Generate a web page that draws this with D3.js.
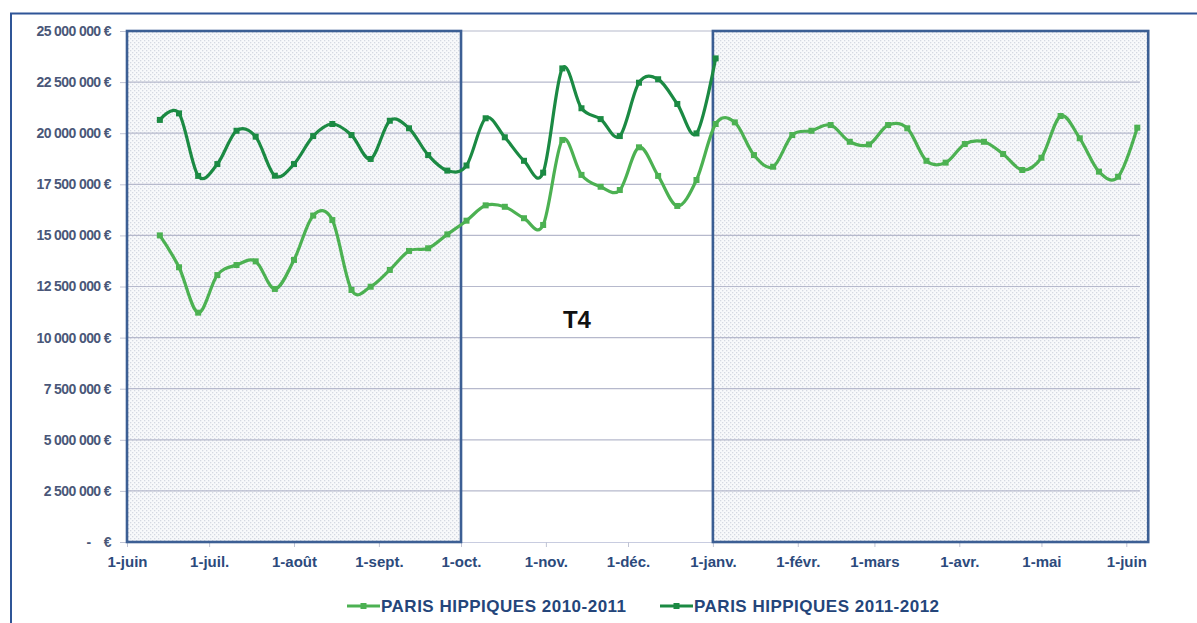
<!DOCTYPE html>
<html><head><meta charset="utf-8">
<script src="https://cdn.jsdelivr.net/npm/d3@7"></script>
<style>body{margin:0;background:#fff;font-family:"Liberation Sans",Arial,sans-serif}</style>
</head><body><svg id="c" width="1197" height="623"></svg>
<script>
const startDate = "2010-06-13"; // first weekly point
const series1Name = "PARIS HIPPIQUES 2010-2011";
const series2Name = "PARIS HIPPIQUES 2011-2012";
const values2010 = [15.0,13.44,11.22,13.06,13.55,13.73,12.38,13.8,15.97,15.75,12.33,12.49,13.31,14.24,14.37,15.05,15.72,
  16.47,16.4,15.84,15.51,19.67,17.96,17.38,17.22,19.31,17.91,16.44,17.71,
  20.45,20.53,18.93,18.36,19.91,20.12,20.4,19.58,19.45,20.4,20.24,18.65,18.56,19.47,19.58,18.98,18.2,18.8,20.84,19.75,18.12,17.87,20.27];
const values2011 = [20.65,20.97,17.91,18.49,20.12,19.83,17.92,18.49,19.86,20.45,19.91,18.74,20.61,20.24,18.93,18.17,18.42,
  20.73,19.8,18.65,18.07,23.17,21.22,20.69,19.86,22.47,22.64,21.43,19.99,23.66];
const yTicks = [0,2.5,5,7.5,10,12.5,15,17.5,20,22.5,25];
const yTickLabels = ["-\u00a0\u00a0\u00a0\u00a0€","2 500 000 €","5 000 000 €","7 500 000 €","10 000 000 €","12 500 000 €","15 000 000 €","17 500 000 €","20 000 000 €","22 500 000 €","25 000 000 €"];
const monthTicks = ["2010-06-01","2010-07-01","2010-08-01","2010-09-01","2010-10-01","2010-11-01","2010-12-01","2011-01-01","2011-02-01","2011-03-01","2011-04-01","2011-05-01","2011-06-01"];
const monthLabels = ["1-juin","1-juil.","1-août","1-sept.","1-oct.","1-nov.","1-déc.","1-janv.","1-févr.","1-mars","1-avr.","1-mai","1-juin"];
const shadedPeriods = [["2010-06-01","2010-10-01"],["2011-01-01","2011-06-09"]];
const quarterLabel = "T4";

const parse = d3.utcParse("%Y-%m-%d");
const t0 = parse(startDate);
const mk = vals => vals.map((v,i)=>({date:d3.utcDay.offset(t0,7*i), v}));
const d1 = mk(values2010), d2 = mk(values2011);

const svg = d3.select("#c");
const L=127, R=1140, T=31, B=542;
const x = d3.scaleUtc().domain([parse("2010-06-01"), parse("2011-06-06")]).range([L,R]);
const y = d3.scaleLinear().domain([0,25]).range([B,T]);

// pattern
const defs = svg.append("defs");
const pat = defs.append("pattern").attr("id","dots").attr("width",4).attr("height",4).attr("patternUnits","userSpaceOnUse");
pat.append("rect").attr("width",4).attr("height",4).attr("fill","#f8f9fb");
pat.append("rect").attr("x",0).attr("y",0).attr("width",1.3).attr("height",1.3).attr("fill","#d5d9e2");
pat.append("rect").attr("x",2).attr("y",2).attr("width",1.3).attr("height",1.3).attr("fill","#d5d9e2");

// outer frame
svg.append("path").attr("d","M11,623 V13.5 H1197").attr("fill","none").attr("stroke","#2f5597").attr("stroke-width",2);

// shaded boxes (fill)
svg.selectAll("rect.sh").data(shadedPeriods).join("rect").attr("class","sh")
  .attr("x",d=>x(parse(d[0]))).attr("y",T).attr("width",d=>x(parse(d[1]))-x(parse(d[0]))).attr("height",B-T)
  .attr("fill","url(#dots)");

// gridlines
svg.append("g").selectAll("line").data(yTicks.slice(1)).join("line")
  .attr("x1",L).attr("x2",R).attr("y1",d=>y(d)).attr("y2",d=>y(d)).attr("stroke","#b6b9cc").attr("stroke-width",1.2);

// y axis
const yAxis = d3.axisLeft(y).tickValues(yTicks).tickSize(7).tickFormat((d,i)=>yTickLabels[i]);
const gy = svg.append("g").attr("transform",`translate(${L},0)`).call(yAxis);
gy.select(".domain").remove();
gy.selectAll(".tick line").attr("stroke","#c0c4d4");
gy.selectAll(".tick text").attr("x",-16).attr("fill","#4a5778").style("font-size","14px").style("font-weight","bold").style("font-family","'Liberation Sans',Arial").style("letter-spacing","-0.6px");

// x axis
const xAxis = d3.axisBottom(x).tickValues(monthTicks.map(parse)).tickSize(5).tickFormat((d,i)=>monthLabels[i]);
const gx = svg.append("g").attr("transform",`translate(0,${B})`).call(xAxis);
gx.select(".domain").attr("stroke","#c8cce0").attr("d",`M${L},0.5H${R}`);
gx.selectAll(".tick line").attr("stroke","#c0c4d4");
gx.selectAll(".tick text").attr("y",14).attr("fill","#2c4a7c").style("font-size","15px").style("font-weight","bold").style("font-family","'Liberation Sans',Arial");

// shaded box borders
svg.selectAll("rect.shb").data(shadedPeriods).join("rect").attr("class","shb")
  .attr("x",d=>x(parse(d[0]))).attr("y",T).attr("width",d=>x(parse(d[1]))-x(parse(d[0]))).attr("height",B-T)
  .attr("fill","none").attr("stroke","#3c5f94").attr("stroke-width",2.6);

// T4 label
svg.append("text").attr("x",(x(parse(shadedPeriods[0][1]))+x(parse(shadedPeriods[1][0])))/2 -10).attr("y",y(10.45))
  .attr("text-anchor","middle").style("font-size","24px").style("font-weight","bold").attr("fill","#111").text(quarterLabel);

// lines
const line = d3.line().x(d=>x(d.date)).y(d=>y(d.v)).curve(d3.curveCardinal.tension(0));
const cols = ["#4cb152","#1b8a43"];
[[d1,cols[0]],[d2,cols[1]]].forEach(([data,c])=>{
  svg.append("path").datum(data).attr("d",line).attr("fill","none").attr("stroke",c).attr("stroke-width",3.2).attr("stroke-linejoin","round");
  svg.append("g").selectAll("rect").data(data).join("rect")
    .attr("x",d=>x(d.date)-3).attr("y",d=>y(d.v)-3).attr("width",6).attr("height",6).attr("fill",c);
});

// legend
const leg = [[series1Name,cols[0],347],[series2Name,cols[1],660]];
leg.forEach(([name,c,lx])=>{
  const g = svg.append("g").attr("transform",`translate(${lx},606)`);
  g.append("line").attr("x1",0).attr("x2",33).attr("y1",0).attr("y2",0).attr("stroke",c).attr("stroke-width",3);
  g.append("rect").attr("x",13.5).attr("y",-3).attr("width",6).attr("height",6).attr("fill",c);
  g.append("text").attr("x",34).attr("y",6).attr("fill","#24457a").style("font-size","17px").style("letter-spacing","0.5px").style("font-weight","bold").text(name);
});
</script></body></html>
